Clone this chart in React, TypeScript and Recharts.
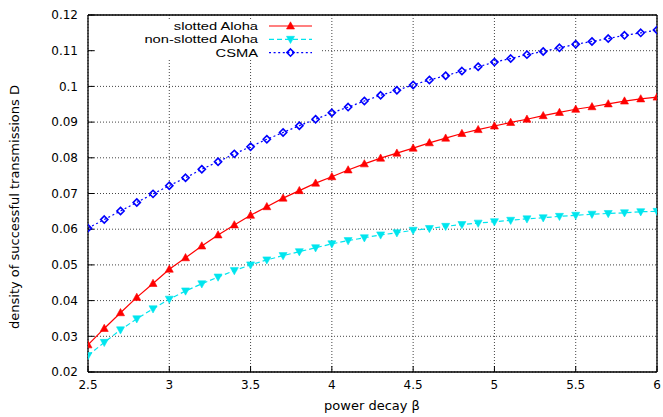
import React from 'react';
import { LineChart, Line, XAxis, YAxis, CartesianGrid, Legend } from 'recharts';

const betas = [2.5, 2.6, 2.7, 2.8, 2.9, 3.0, 3.1, 3.2, 3.3, 3.4, 3.5, 3.6, 3.7, 3.8, 3.9, 4.0, 4.1, 4.2, 4.3, 4.4, 4.5, 4.6, 4.7, 4.8, 4.9, 5.0, 5.1, 5.2, 5.3, 5.4, 5.5, 5.6, 5.7, 5.8, 5.9, 6.0];
const slottedAloha = [0.0276, 0.0322, 0.0366, 0.0409, 0.0448, 0.0488, 0.0520, 0.0553, 0.0584, 0.0612, 0.0639, 0.0663, 0.0687, 0.0708, 0.0729, 0.0747, 0.0766, 0.0783, 0.0799, 0.0813, 0.0827, 0.0842, 0.0855, 0.0868, 0.0879, 0.0889, 0.0899, 0.0908, 0.0918, 0.0927, 0.0936, 0.0943, 0.0951, 0.0959, 0.0965, 0.0970];
const nonSlottedAloha = [0.0246, 0.0283, 0.0318, 0.0349, 0.0377, 0.0404, 0.0427, 0.0447, 0.0466, 0.0484, 0.0500, 0.0514, 0.0526, 0.0537, 0.0548, 0.0559, 0.0568, 0.0576, 0.0584, 0.0590, 0.0597, 0.0602, 0.0608, 0.0613, 0.0617, 0.0621, 0.0625, 0.0629, 0.0632, 0.0636, 0.0639, 0.0642, 0.0644, 0.0646, 0.0649, 0.0650];
const csma = [0.0603, 0.0627, 0.0651, 0.0675, 0.0699, 0.0722, 0.0744, 0.0768, 0.0789, 0.0811, 0.0831, 0.0852, 0.0871, 0.0890, 0.0908, 0.0926, 0.0942, 0.0959, 0.0975, 0.0989, 0.1004, 0.1018, 0.1030, 0.1043, 0.1055, 0.1068, 0.1078, 0.1089, 0.1098, 0.1108, 0.1118, 0.1126, 0.1134, 0.1143, 0.1150, 0.1158];

const xTicks = [2.5, 3, 3.5, 4, 4.5, 5, 5.5, 6];
const yTicks = [0.02, 0.03, 0.04, 0.05, 0.06, 0.07, 0.08, 0.09, 0.1, 0.11, 0.12];

const seriesNames = ['slotted Aloha', 'non-slotted Aloha', 'CSMA'];
const xLabel = 'power decay \u03b2';
const yLabel = 'density of successful transmissions D';

const data = betas.map((b, i) => ({
  beta: b,
  slotted: slottedAloha[i],
  nonSlotted: nonSlottedAloha[i],
  csma: csma[i],
}));

const FONT = 'DejaVu Sans';

const TriUp = (props: any) => {
  const { cx, cy, color } = props;
  if (cx == null || cy == null) return <g />;
  return <polygon points={`${cx},${cy - 4.2} ${cx - 4},${cy + 3} ${cx + 4},${cy + 3}`} fill={color} stroke={color} strokeWidth={0.6} />;
};
const TriDown = (props: any) => {
  const { cx, cy, color } = props;
  if (cx == null || cy == null) return <g />;
  return <polygon points={`${cx},${cy + 4.2} ${cx - 4},${cy - 3} ${cx + 4},${cy - 3}`} fill={color} stroke={color} strokeWidth={0.6} />;
};
const Diamond = (props: any) => {
  const { cx, cy, color } = props;
  if (cx == null || cy == null) return <g />;
  return <polygon points={`${cx},${cy - 3.6} ${cx + 3.6},${cy} ${cx},${cy + 3.6} ${cx - 3.6},${cy}`} fill="none" stroke={color} strokeWidth={1.6} />;
};

const series = [
  { key: 'slotted', name: seriesNames[0], color: '#ff0000', dash: undefined as string | undefined, Mark: TriUp },
  { key: 'nonSlotted', name: seriesNames[1], color: '#00e5ee', dash: '5 3', Mark: TriDown },
  { key: 'csma', name: seriesNames[2], color: '#0000ff', dash: '2 2.6', Mark: Diamond },
];

const ROW_CENTERS = [5, 18.3, 31.6];

const LegendBox = () => (
  <svg width={224} height={37} style={{ display: 'block', background: '#fff', overflow: 'visible' }}>
    {series.map((s, i) => {
      const cy = ROW_CENTERS[i];
      return (
        <g key={s.key}>
          <text
            transform={`translate(162 ${cy + 4.1}) scale(1.28 1)`}
            x={0}
            y={0}
            textAnchor="end"
            fontFamily="Liberation Sans"
            fontSize={11.5}
            fill="#000"
          >
            {s.name}
          </text>
          <line x1={173} y1={cy} x2={216} y2={cy} stroke={s.color} strokeWidth={1.2} strokeDasharray={s.dash} />
          <s.Mark cx={194.5} cy={cy} color={s.color} />
        </g>
      );
    })}
  </svg>
);

const XLabel = () => (
  <text x={372} y={410} textAnchor="middle" fontFamily={FONT} fontSize={13} fill="#000">{xLabel}</text>
);
const YLabel = () => (
  <text x={19} y={207} transform="rotate(-90 19 207)" textAnchor="middle" fontFamily={FONT} fontSize={13} fill="#000">{yLabel}</text>
);

export default function App() {
  return (
    <div style={{ position: 'absolute', left: 0, top: 0, width: 663, height: 417, background: '#fff' }}>
      <LineChart width={663} height={417} data={data} margin={{ top: 0, right: 0, bottom: 15, left: 28 }}>
        <CartesianGrid stroke="#444" strokeDasharray="1 2" strokeWidth={1} />
        <XAxis
          dataKey="beta"
          type="number"
          domain={[2.5, 6]}
          ticks={xTicks}
          height={30}
          tickSize={-6}
          tickMargin={14}
          axisLine={{ stroke: '#000', strokeWidth: 1.3 }}
          tickLine={{ stroke: '#000' }}
          tick={{ fontSize: 12, fill: '#000', fontFamily: FONT }}
          interval={0}
          label={<XLabel />}
          allowDataOverflow
        />
        <XAxis
          xAxisId="top"
          orientation="top"
          dataKey="beta"
          type="number"
          domain={[2.5, 6]}
          ticks={xTicks}
          height={15}
          tickSize={-6}
          axisLine={{ stroke: '#000', strokeWidth: 1.3 }}
          tickLine={{ stroke: '#000' }}
          tick={false}
          interval={0}
          allowDataOverflow
        />
        <YAxis
          type="number"
          domain={[0.02, 0.12]}
          ticks={yTicks}
          width={60}
          tickSize={-6}
          tickMargin={16}
          axisLine={{ stroke: '#000', strokeWidth: 1.3 }}
          tickLine={{ stroke: '#000' }}
          tick={{ fontSize: 12, fill: '#000', fontFamily: FONT }}
          interval={0}
          label={<YLabel />}
          allowDataOverflow
        />
        <YAxis
          yAxisId="right"
          orientation="right"
          type="number"
          domain={[0.02, 0.12]}
          ticks={yTicks}
          width={6}
          tickSize={-6}
          axisLine={{ stroke: '#000', strokeWidth: 1.3 }}
          tickLine={{ stroke: '#000' }}
          tick={false}
          interval={0}
          allowDataOverflow
        />
        <Legend
          layout="vertical"
          align="center"
          verticalAlign="middle"
          content={<LegendBox />}
          wrapperStyle={{ left: 96, top: 21, width: 224, height: 37, margin: 0, padding: 0, lineHeight: 0 }}
        />
        {series.map((s) => (
          <Line
            key={s.key}
            type="linear"
            dataKey={s.key}
            name={s.name}
            stroke={s.color}
            strokeWidth={1.2}
            strokeDasharray={s.dash}
            dot={(p: any) => <s.Mark key={`${s.key}-${p.index}`} cx={p.cx} cy={p.cy} color={s.color} />}
            activeDot={false}
            isAnimationActive={false}
          />
        ))}
      </LineChart>
    </div>
  );
}
